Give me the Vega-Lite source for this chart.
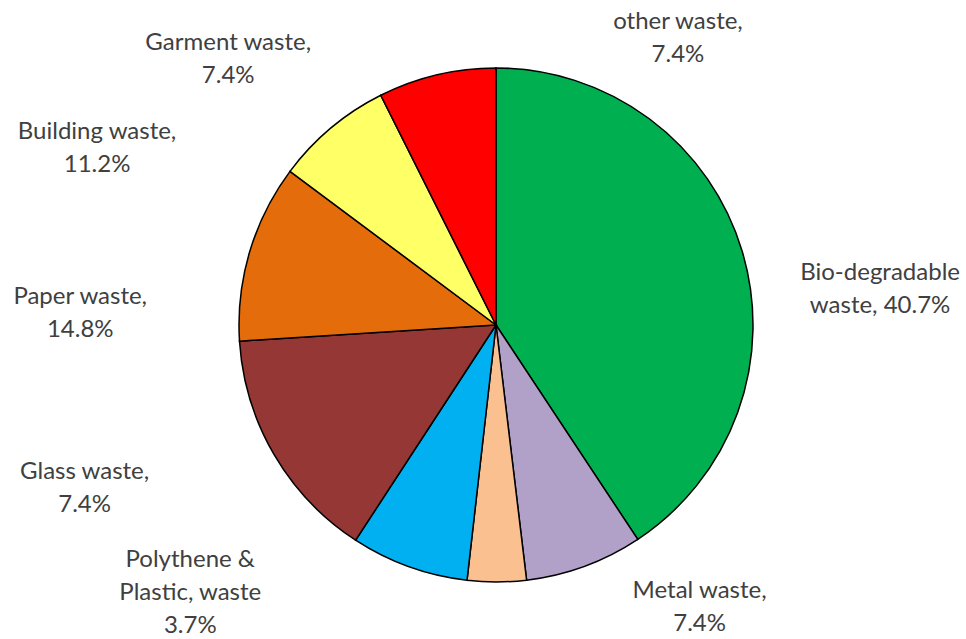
{
  "$schema": "https://vega.github.io/schema/vega-lite/v6.json",
  "width": 940,
  "height": 628,
  "autosize": "none",
  "padding": {"left": 26, "right": 0, "top": 11, "bottom": 0},
  "background": "white",
  "config": {"view": {"stroke": null}, "text": {"font": "Lato", "fontSize": 24, "color": "#404040", "lineBreak": "\n", "align": "center", "baseline": "middle", "lineHeight": 33}},
  "data": {
    "values": [
      {"category": "Bio-degradable waste", "label": "Bio-degradable\nwaste, 40.7%", "pct": 40.7, "order": 1},
      {"category": "Metal waste", "label": "Metal waste,\n7.4%", "pct": 7.4, "order": 2},
      {"category": "Polythene & Plastic, waste", "label": "Polythene &\nPlastic, waste\n3.7%", "pct": 3.7, "order": 3},
      {"category": "Glass waste", "label": "Glass waste,\n7.4%", "pct": 7.4, "order": 4},
      {"category": "Paper waste", "label": "Paper waste,\n14.8%", "pct": 14.8, "order": 5},
      {"category": "Building waste", "label": "Building waste,\n11.2%", "pct": 11.2, "order": 6},
      {"category": "Garment waste", "label": "Garment waste,\n7.4%", "pct": 7.4, "order": 7},
      {"category": "other waste", "label": "other waste,\n7.4%", "pct": 7.4, "order": 8}
    ]
  },
  "encoding": {
    "theta": {"field": "pct", "type": "quantitative", "stack": true},
    "order": {"field": "order", "type": "quantitative"}
  },
  "layer": [
    {
      "mark": {"type": "arc", "outerRadius": 257, "stroke": "black", "strokeWidth": 1.5},
      "encoding": {
        "color": {
          "field": "category",
          "type": "nominal",
          "legend": null,
          "scale": {
            "domain": ["Bio-degradable waste", "Metal waste", "Polythene & Plastic, waste", "Glass waste", "Paper waste", "Building waste", "Garment waste", "other waste"],
            "range": ["#00B050", "#B1A0C7", "#FAC090", "#00B0F0", "#953735", "#E46C0A", "#FFFF66", "#FF0000"]
          }
        }
      }
    },
    {
      "mark": {"type": "text", "radius": 375, "dx": 25, "dy": 56},
      "encoding": {"text": {"condition": {"test": "datum.order == 1", "field": "label"}, "value": ""}}
    },
    {
      "mark": {"type": "text", "radius": 347, "dx": 84, "dy": -60},
      "encoding": {"text": {"condition": {"test": "datum.order == 2", "field": "label"}, "value": ""}}
    },
    {
      "mark": {"type": "text", "radius": 402, "dx": -307, "dy": -167},
      "encoding": {"text": {"condition": {"test": "datum.order == 3", "field": "label"}, "value": ""}}
    },
    {
      "mark": {"type": "text", "radius": 441, "dx": -262, "dy": -268},
      "encoding": {"text": {"condition": {"test": "datum.order == 4", "field": "label"}, "value": ""}}
    },
    {
      "mark": {"type": "text", "radius": 428, "dx": -46, "dy": -244},
      "encoding": {"text": {"condition": {"test": "datum.order == 5", "field": "label"}, "value": ""}}
    },
    {
      "mark": {"type": "text", "radius": 436, "dx": 19, "dy": -69},
      "encoding": {"text": {"condition": {"test": "datum.order == 6", "field": "label"}, "value": ""}}
    },
    {
      "mark": {"type": "text", "radius": 378, "dx": -25, "dy": 8},
      "encoding": {"text": {"condition": {"test": "datum.order == 7", "field": "label"}, "value": ""}}
    },
    {
      "mark": {"type": "text", "radius": 330, "dx": 258, "dy": 18},
      "encoding": {"text": {"condition": {"test": "datum.order == 8", "field": "label"}, "value": ""}}
    }
  ]
}
